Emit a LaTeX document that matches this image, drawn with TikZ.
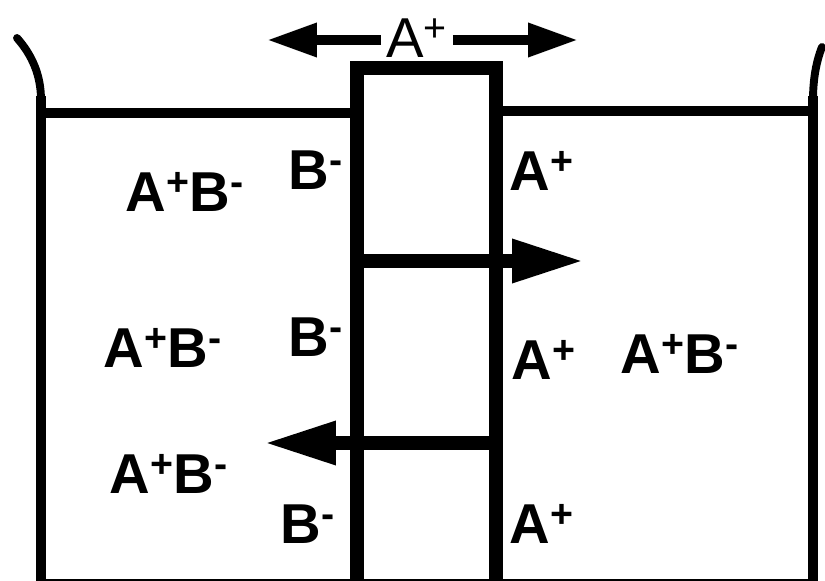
\documentclass[tikz,border=0pt]{standalone}
\usepackage{fontspec}
\setmainfont{Liberation Sans}
\usetikzlibrary{arrows.meta}
\newcommand{\Aplus}{A\textsuperscript{+}}
\newcommand{\Bminus}{B\textsuperscript{-}}

\begin{document}
\begin{tikzpicture}[
  x=0.02cm,y=-0.02cm,
  ion/.style={font=\fontsize{32}{36}\selectfont\bfseries,inner sep=0pt},
  topion/.style={font=\fontsize{32}{36}\selectfont,inner sep=0pt,outer sep=3pt},
  wall/.style={draw=black,line width=5.5pt,line join=miter},
  lip/.style={draw=black,line width=4.5pt,line cap=round},
  memb/.style={draw=black,line width=8.5pt,line join=miter},
  flow/.style={-{Triangle[length=1.46cm,width=0.8cm]},line width=8.5pt},
  topflow/.style={-{Triangle[length=1cm,width=0.64cm]},line width=5.5pt}]
\useasboundingbox (0,0) rectangle (825,581);

% ---- beaker: walls, bottom and the liquid surface -------------------------
\draw[lip] (17,38) .. controls (32,55) and (41,75) .. (41,100);
\draw[lip] (822,47) .. controls (816,62) and (813,80) .. (813,100);
\draw[wall] (41,96) -- (41,584) -- (813,584) -- (813,96);
\draw[wall] (41,113) -- (357,113);
\draw[wall] (496,111) -- (813,111);

% ---- membrane stack, three cells -----------------------------------------
\coordinate (mL1) at (357,261);
\coordinate (mR1) at (496,261);
\coordinate (mL2) at (357,443);
\coordinate (mR2) at (496,443);
\draw[memb] (357,600) -- (357,68) -- (496,68) -- (496,600);
\draw[memb] (mL1) -- (mR1);
\draw[memb] (mL2) -- (mR2);

% ---- ion flows -------------------------------------------------------------
\node[topion] (topA) at (417,38) {\Aplus};
\coordinate (outTL) at (267,40);
\coordinate (outTR) at (578,40);
\coordinate (outR) at (585,261);
\coordinate (outL) at (263,443);
\draw[topflow] (topA.west |- outTL) -- (outTL);
\draw[topflow] (topA.east |- outTR) -- (outTR);
\draw[flow] (mR1) -- (outR);
\draw[flow] (mL2) -- (outL);

% ---- labels ------------------------------------------------------------------
\node[ion] (salt1) at (185,192) {\Aplus\Bminus};
\node[ion] (anion1) at (316,170) {\Bminus};
\node[ion] (cation1) at (542,171) {\Aplus};
\node[ion] (salt2) at (163,348) {\Aplus\Bminus};
\node[ion] (anion2) at (316,337) {\Bminus};
\node[ion] (cation2) at (544,360) {\Aplus};
\node[ion] (salt3) at (680,354) {\Aplus\Bminus};
\node[ion] (salt4) at (169,474) {\Aplus\Bminus};
\node[ion] (anion3) at (308,524) {\Bminus};
\node[ion] (cation3) at (542,524) {\Aplus};
\end{tikzpicture}
\end{document}
